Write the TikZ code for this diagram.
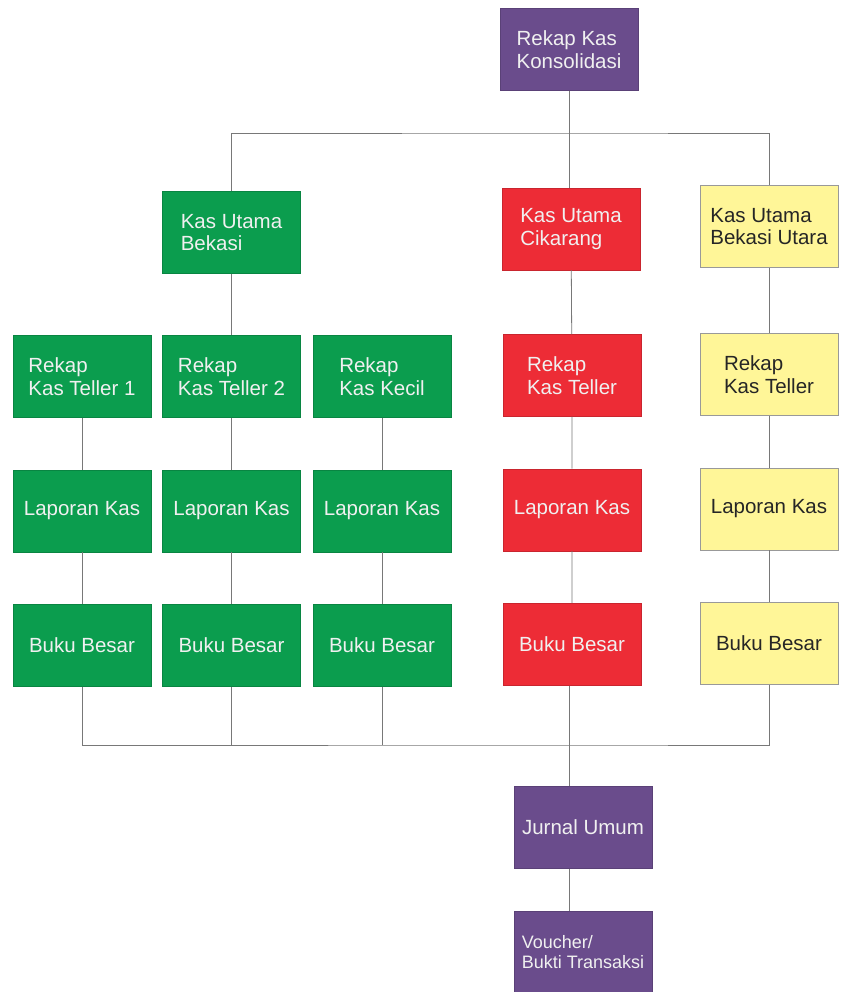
\documentclass[tikz,border=0pt]{standalone}
\usepackage{fontspec}
\setmainfont{Liberation Sans}
\usepackage{tikz}
\usetikzlibrary{positioning}

\definecolor{kasgreen}{RGB}{11,157,78}
\definecolor{kasred}{RGB}{237,44,54}
\definecolor{kasyellow}{RGB}{255,246,152}
\definecolor{kaspurple}{RGB}{106,76,140}
\definecolor{linegray}{RGB}{120,120,120}

\begin{document}
\begin{tikzpicture}[
        x=1pt, y=-1pt,
        node distance=52pt,
        font=\fontsize{20.5}{22.5}\selectfont,
        box/.style={minimum width=138pt, minimum height=82pt, align=left, inner sep=2pt},
        gbox/.style={box, fill=kasgreen, draw=kasgreen!85!black, text=white!94!black},
        rbox/.style={box, fill=kasred, draw=kasred!85!black, text=white!94!black},
        ybox/.style={box, fill=kasyellow, draw=black!40, text=black!85},
        pbox/.style={box, fill=kaspurple, draw=kaspurple!85!black, text=white!94!black},
        link/.style={draw=linegray, line width=0.8pt}
    ]
        \useasboundingbox (0,0) rectangle (840,992);

        % top
        \node[pbox] (konsol) at (569,49.5) {Rekap Kas\\Konsolidasi};
        \node[gbox] (kub) at (231.5,232.5) {Kas Utama\\Bekasi};
        \node[rbox] (kuc) at (571,229) {Kas Utama\\Cikarang};
        \node[ybox] (kubu) at (769,226.5) {Kas Utama\\Bekasi Utara};
        \coordinate (topbus) at (569,133);

        % Bekasi
        \node[gbox] (rk1) at (82,376.5) {Rekap\\Kas Teller 1};
        \node[gbox, below=of rk1] (lk1) {Laporan Kas};
        \node[gbox, below=of lk1] (bb1) {Buku Besar};
        \node[gbox] (rk2) at (231.5,376.5) {Rekap\\Kas Teller 2};
        \node[gbox, below=of rk2] (lk2) {Laporan Kas};
        \node[gbox, below=of lk2] (bb2) {Buku Besar};
        \node[gbox] (rk3) at (382,376.5) {Rekap\\Kas Kecil};
        \node[gbox, below=of rk3] (lk3) {Laporan Kas};
        \node[gbox, below=of lk3] (bb3) {Buku Besar};

        % Cikarang
        \node[rbox] (rk4) at (572,375.5) {Rekap\\Kas Teller};
        \node[rbox, below=of rk4] (lk4) {Laporan Kas};
        \node[rbox, below=of lk4] (bb4) {Buku Besar};

        % Bekasi Utara
        \node[ybox] (rk5) at (769,374.5) {Rekap\\Kas Teller};
        \node[ybox, below=of rk5] (lk5) {Laporan Kas};
        \node[ybox, below=of lk5] (bb5) {Buku Besar};

        % bottom
        \coordinate (botbus) at (569,745);
        \node[pbox] (jurnal) at (583,827.5) {Jurnal Umum};
        \node[pbox, font=\fontsize{18}{20.5}\selectfont] (voucher) at (583,952) {Voucher/\\Bukti Transaksi};

        \draw[link] (konsol.south) -- (konsol.south |- kuc.north);
        \draw[link] (kub.north) |- (topbus) -| (kubu.north);
        \draw[link] (kub) -- (rk2);
        \draw[link] (rk1) -- (lk1) -- (bb1);
        \draw[link] (rk2) -- (lk2) -- (bb2);
        \draw[link] (rk3) -- (lk3) -- (bb3);
        \draw[link] (kuc) -- (rk4) -- (lk4) -- (bb4);
        \draw[link] (kubu) -- (rk5) -- (lk5) -- (bb5);
        \draw[link] (bb1.south) |- (botbus) -| (bb5.south);
        \draw[link] (bb2.south) -- (bb2.south |- botbus);
        \draw[link] (bb3.south) -- (bb3.south |- botbus);
        \draw[link] (bb4.south -| botbus) -- (jurnal.north -| botbus);
        \draw[link] (jurnal.south -| botbus) -- (voucher.north -| botbus);
    \end{tikzpicture}
\end{document}
